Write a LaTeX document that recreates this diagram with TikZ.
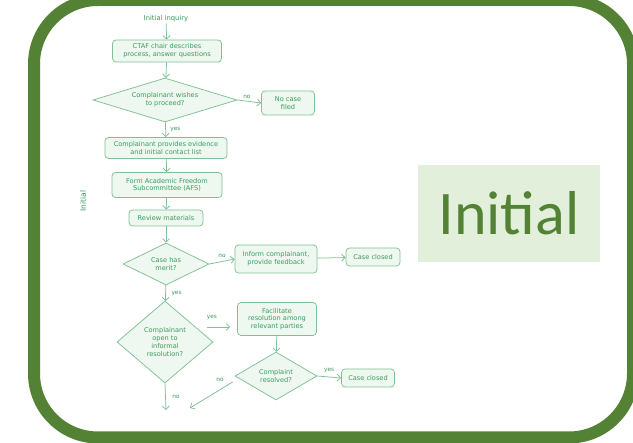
\documentclass[tikz,border=0pt]{standalone}
\usepackage{fontspec}
\usetikzlibrary{shapes.geometric,arrows.meta,calc}
\newfontfamily\fcfamily{DejaVu Sans}
\newfontfamily\calibri{Carlito}
\definecolor{framegreen}{HTML}{548235}
\definecolor{initfill}{HTML}{E2EFDA}
\definecolor{fcstroke}{HTML}{80C095}
\definecolor{fcfill}{HTML}{EEF8F0}
\definecolor{fctext}{HTML}{3A9A5A}
\tikzset{
  fcbox/.style={draw=fcstroke, fill=fcfill, rounded corners=3.5pt, line width=0.75pt,
    text=fctext, font=\fcfamily\fontsize{6.6}{7.8}\selectfont, align=center, inner sep=1pt},
  fcdia/.style={diamond, draw=fcstroke, fill=fcfill, line width=0.75pt,
    text=fctext, font=\fcfamily\fontsize{6.6}{7.8}\selectfont, align=center, inner sep=0pt},
  fctxt/.style={text=fctext, font=\fcfamily\fontsize{6.8}{7.8}\selectfont, inner sep=1pt},
  fclbl/.style={text=fctext, font=\fcfamily\fontsize{5.8}{6}\selectfont, inner sep=0.5pt},
  fcarr/.style={draw=fcstroke, line width=0.75pt, -{Straight Barb[length=3.5pt,width=7pt]}},
}
\begin{document}
\begin{tikzpicture}[x=1pt,y=-1pt]
\useasboundingbox (0,0) rectangle (633,443);
\clip (0,0) rectangle (633,443);
\fill[white] (0,0) rectangle (633,443);
% outer frame
\draw[line width=12pt, color=framegreen, rounded corners=64pt] (34,0) rectangle (633,437.5);

% flowchart nodes
\node[fctxt] (inq) at (166,19) {Initial inquiry};
\node[fcbox, minimum width=109pt, minimum height=22pt] (ctaf) at (167,51) {CTAF chair describes\\process, answer questions};
\node[fcdia, aspect=3.27, minimum width=144pt, minimum height=44pt] (wish) at (165,100) {Complainant wishes\\to proceed?};
\node[fcbox, minimum width=53pt, minimum height=24pt] (nofile) at (288,103) {No case\\filed};
\node[fcbox, minimum width=122pt, minimum height=21pt] (evid) at (166,148) {Complainant provides evidence\\and initial contact list};
\node[fcbox, minimum width=110pt, minimum height=25pt] (afs) at (167,185) {Form Academic Freedom\\Subcommittee (AFS)};
\node[fcbox, minimum width=74pt, minimum height=16pt] (rev) at (166,218) {Review materials};
\node[fcdia, aspect=2.05, minimum width=86pt, minimum height=42pt] (merit) at (166,264) {Case has\\merit?};
\node[fcbox, minimum width=82pt, minimum height=28pt] (inform) at (276,259) {Inform complainant,\\provide feedback};
\node[fcbox, minimum width=54pt, minimum height=18pt] (closedA) at (373,257) {Case closed};
\node[fcdia, aspect=1.17, minimum width=96pt, minimum height=82pt] (open) at (165,342) {Complainant\\open to\\informal\\resolution?};
\node[fcbox, minimum width=79pt, minimum height=33pt] (facil) at (277,319) {Facilitate\\resolution among\\relevant parties};
\node[fcdia, aspect=1.7, minimum width=82pt, minimum height=48pt] (resolved) at (276,376) {Complaint\\resolved?};
\node[fcbox, minimum width=53pt, minimum height=18pt] (closedB) at (368,378) {Case closed};
\coordinate (endA) at (166,410);
\coordinate (endB) at (190,408);

% vertical label
\node[text=fctext, font=\fcfamily\fontsize{7.5}{8}\selectfont, rotate=90] (vlabel) at (83,201) {Initial};

% connectors
\draw[fcarr] (inq) -- (ctaf);
\draw[fcarr] (ctaf) -- (wish);
\draw[fcarr] (wish.east) -- node[fclbl, above=2pt, pos=0.4] (lno1) {no} (nofile.west);
\draw[fcarr] (wish) -- node[fclbl, right=4pt] (lyes1) {yes} (evid);
\draw[fcarr] (evid) -- (afs);
\draw[fcarr] (afs) -- (rev);
\draw[fcarr] (rev) -- (merit);
\draw[fcarr] (merit.east) -- node[fclbl, above=3pt] (lno2) {no} (inform.west);
\draw[fcarr] (inform) -- (closedA);
\draw[fcarr] (merit) -- node[fclbl, right=5pt] (lyes2) {yes} (open);
\draw[fcarr] ($(open.east)+(-6,-15)$) -- node[fclbl, above=6pt, pos=0.2] (lyes3) {yes} ($(facil.west)+(-7,8)$);
\draw[fcarr] (facil) -- (resolved);
\draw[fcarr] (resolved.east) -- node[fclbl, above=3pt] (lyes4) {yes} (closedB.west);
\draw[fcarr] ($(resolved.west)+(-2,6)$) -- (endB);
\node[fclbl] (lno4) at (220,380) {no};
\draw[fcarr] (open.south) -- node[fclbl, right=6pt] (lno3) {no} (endA);

% big label box
\node[fill=initfill, minimum width=182pt, minimum height=97pt, inner sep=0pt,
  text=framegreen, font=\calibri\fontsize{62}{70}\selectfont] (big) at (509,213.5) {Initial};
\end{tikzpicture}
\end{document}
